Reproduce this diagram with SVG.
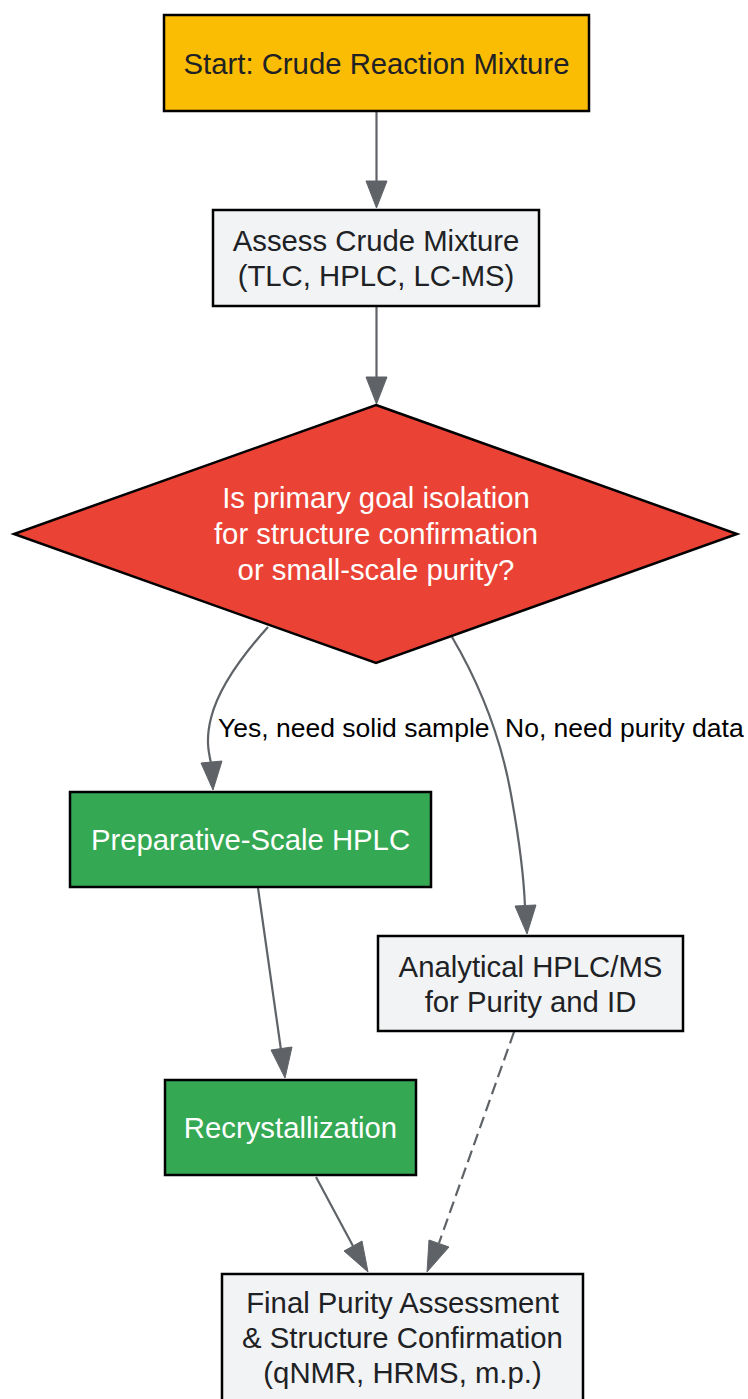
<svg xmlns="http://www.w3.org/2000/svg" width="748" height="1399" viewBox="0 0 748 1399">
<style>
.node{stroke:#000;stroke-width:2.5}
.t{font-family:"Liberation Sans",Arial,sans-serif;font-size:29.3px;text-anchor:middle}
.dark{fill:#202124}
.light{fill:#fff}
.edge{fill:none;stroke:#5f6368;stroke-width:2.2}
.head{fill:#5f6368;stroke:#5f6368;stroke-width:1}
.lbl{font-family:"Liberation Sans",Arial,sans-serif;font-size:26.5px;fill:#000}
</style>
<rect width="748" height="1399" fill="#fff"/>
<g id="edges">
<path class="edge" d="M376.5 111 L376.5 181"/>
<polygon class="head" points="366,181 387,181 376.5,208"/>
<path class="edge" d="M376.5 306 L376.5 377"/>
<polygon class="head" points="366,377 387,377 376.5,404"/>
<path class="edge" d="M268 627 C 240 658 218 690 211 718 C 206 738 208 750 211 763"/>
<polygon class="head" points="201,763 222,761 213,790"/>
<text class="lbl" x="218" y="737">Yes, need solid sample</text>
<path class="edge" d="M452 637 C 482 688 502 740 512 800 C 520 845 524 880 525 907"/>
<polygon class="head" points="515,906 536,905 527,934"/>
<text class="lbl" x="505" y="737">No, need purity data</text>
<path class="edge" d="M258 888 L281 1050"/>
<polygon class="head" points="271,1050 292,1047 285,1078"/>
<path class="edge" d="M316 1177 L353 1246"/>
<polygon class="head" points="344,1251 362,1241 368,1272"/>
<path class="edge" d="M514 1032 L439 1243" stroke-dasharray="12,6"/>
<polygon class="head" points="429,1240 449,1247 427,1272"/>
</g>
<g id="start">
<rect class="node" x="164" y="15" width="425" height="96" fill="#fbbc04"/>
<text class="t dark" x="376.5" y="74">Start: Crude Reaction Mixture</text>
</g>
<g id="assess">
<rect class="node" x="213" y="210" width="326" height="96" fill="#f1f3f4"/>
<text class="t dark" x="376" y="251">Assess Crude Mixture</text>
<text class="t dark" x="376" y="286">(TLC, HPLC, LC-MS)</text>
</g>
<g id="decision">
<polygon class="node" points="376,405 737,534 376,663 14,534" fill="#ea4335"/>
<text class="t light" x="376" y="508">Is primary goal isolation</text>
<text class="t light" x="376" y="544">for structure confirmation</text>
<text class="t light" x="376" y="580">or small-scale purity?</text>
</g>
<g id="prep">
<rect class="node" x="70" y="792" width="361" height="95" fill="#34a853"/>
<text class="t light" x="250.5" y="850">Preparative-Scale HPLC</text>
</g>
<g id="analytical">
<rect class="node" x="378" y="936" width="305" height="95" fill="#f1f3f4"/>
<text class="t dark" x="530.5" y="977">Analytical HPLC/MS</text>
<text class="t dark" x="530.5" y="1012">for Purity and ID</text>
</g>
<g id="recryst">
<rect class="node" x="165" y="1080" width="251" height="95" fill="#34a853"/>
<text class="t light" x="290.5" y="1138">Recrystallization</text>
</g>
<g id="final">
<rect class="node" x="222" y="1274" width="361" height="135" fill="#f1f3f4"/>
<text class="t dark" x="402.5" y="1313">Final Purity Assessment</text>
<text class="t dark" x="402.5" y="1348">&amp; Structure Confirmation</text>
<text class="t dark" x="402.5" y="1383">(qNMR, HRMS, m.p.)</text>
</g>
</svg>
